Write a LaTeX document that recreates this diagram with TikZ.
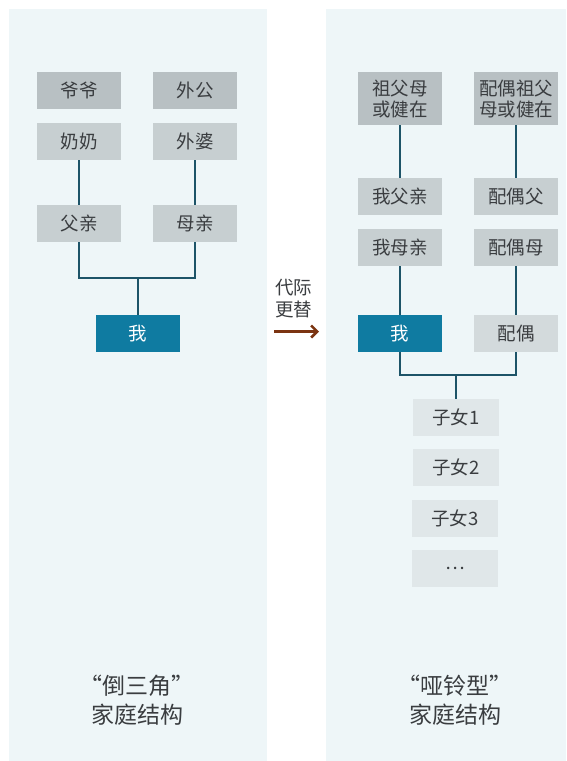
\documentclass[tikz,border=0pt]{standalone}
\usepackage{fontspec}
\setmainfont{Noto Sans CJK SC}
\usetikzlibrary{arrows.meta}
\definecolor{panelbg}{HTML}{EEF6F8}
\definecolor{darkgray}{HTML}{B8C0C3}
\definecolor{midgray}{HTML}{C7CFD1}
\definecolor{lightgray}{HTML}{D3DADC}
\definecolor{palegray}{HTML}{E0E7E9}
\definecolor{mecolor}{HTML}{0F7BA1}
\definecolor{linkcolor}{HTML}{1D5468}
\definecolor{txtcolor}{HTML}{3A3D40}
\definecolor{arrowbrown}{HTML}{7B3411}
\begin{document}
\begin{tikzpicture}[x=1pt,y=-1pt,font=\fontsize{18.5}{21}\selectfont,
    box/.style={fill=midgray,minimum width=84pt,minimum height=37pt,inner sep=0pt,text=txtcolor,align=center},
    tallbox/.style={box,fill=darkgray,minimum height=53pt},
    kidbox/.style={box,fill=palegray,minimum width=86pt},
    link/.style={draw=linkcolor,line width=1.2pt},
    heading/.style={text=txtcolor,align=center,font=\fontsize{23}{29}\selectfont}]
    \useasboundingbox (0,0) rectangle (566,761);
    \fill[panelbg] (9,9) rectangle (267,761);
    \fill[panelbg] (326,9) rectangle (566,761);

    \node[box,fill=darkgray] (yeye) at (79,90.5){爷爷};
    \node[box,fill=darkgray] (waigong) at (195,90.5){外公};
    \node[box] (nainai) at (79,141.5){奶奶};
    \node[box] (waipo) at (195,141.5){外婆};
    \node[box] (fuqin) at (79,223.5){父亲};
    \node[box] (muqin) at (195,223.5){母亲};
    \node[box,fill=mecolor,text=white] (wo) at (138,333.5){我};
    \coordinate (lfork) at (138,278);

    \node[tallbox] (zufumu) at (400,98.5){祖父母\\或健在};
    \node[tallbox] (pzufumu) at (516,98.5){配偶祖父\\母或健在};
    \node[box] (wofuqin) at (400,196.5){我父亲};
    \node[box] (pfu) at (516,196.5){配偶父};
    \node[box] (womuqin) at (400,247.5){我母亲};
    \node[box] (pmu) at (516,247.5){配偶母};
    \node[box,fill=mecolor,text=white] (wor) at (400,333.5){我};
    \node[box,fill=lightgray] (peiou) at (516,333.5){配偶};
    \coordinate (rfork) at (456,375);
    \node[kidbox] (zinv1) at (456,417.5){子女1};
    \node[kidbox] (zinv2) at (456,467.5){子女2};
    \node[kidbox] (zinv3) at (455,518.5){子女3};
    \node[kidbox] (more) at (455,568.5){…};

    \node[heading] (ltitle) at (137,700){“倒三角”\\家庭结构};
    \node[heading] (rtitle) at (455,700){“哑铃型”\\家庭结构};

    \node[text=txtcolor,align=center,font=\fontsize{18.5}{22}\selectfont] (gen) at (293.5,299){代际\\更替};
    \coordinate (arrs) at (274,331.5);
    \coordinate (arre) at (319,331.5);

    \draw[link] (nainai) -- (fuqin);
    \draw[link] (waipo) -- (muqin);
    \draw[link] (fuqin) |- (lfork) -| (muqin);
    \draw[link] (lfork) -- (wo);

    \draw[link] (zufumu) -- (wofuqin);
    \draw[link] (pzufumu) -- (pfu);
    \draw[link] (womuqin) -- (wor);
    \draw[link] (pmu) -- (peiou);
    \draw[link] (wor) |- (rfork) -| (peiou);
    \draw[link] (rfork) -- (zinv1);

    \draw[arrowbrown,line width=2.6pt,-{Straight Barb[length=6pt,width=12pt]}] (arrs) -- (arre);
\end{tikzpicture}
\end{document}
